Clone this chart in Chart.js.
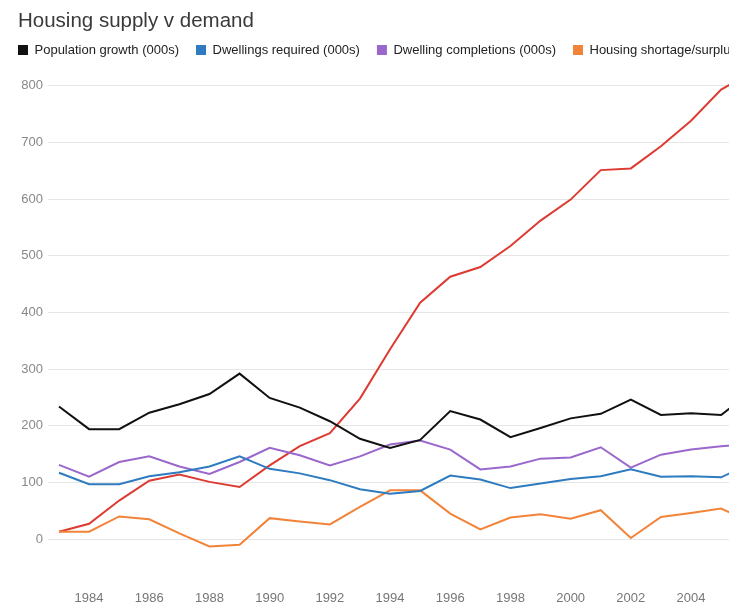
<!DOCTYPE html>
<html>
<head>
<meta charset="utf-8">
<script src="https://cdn.jsdelivr.net/npm/chart.js@4"></script>
<style>
  html, body { margin: 0; padding: 0; background: #fff; }
  body { width: 729px; height: 605px; overflow: hidden; position: relative; }
  #title {
    position: absolute; left: 18px; top: 8px; line-height: 24px;
    font-family: "Liberation Sans", Arial, sans-serif; font-size: 20.5px; color: #3a3a3a;
    z-index: 2;
  }
  #chart { position: absolute; left: 0; top: 0; }
</style>
</head>
<body>
<div id="title">Housing supply v demand</div>
<canvas id="chart" width="1150" height="605" style="width:1150px;height:605px"></canvas>
<script>
// Data (thousands), one point per year
const years = [1983, 1984, 1985, 1986, 1987, 1988, 1989, 1990, 1991, 1992, 1993, 1994,
               1995, 1996, 1997, 1998, 1999, 2000, 2001, 2002, 2003, 2004, 2005, 2006];
const populationGrowth = [234, 194, 194, 223, 238, 256, 292, 249, 232, 208, 177, 161,
                          175, 226, 211, 180, 196, 213, 221, 246, 219, 222, 219, 260];
const dwellingsRequired = [117, 97, 97, 111, 118, 128, 146, 124, 116, 104, 88, 80,
                           85, 112, 105, 90, 98, 106, 111, 123, 110, 111, 109, 134];
const dwellingCompletions = [131, 110, 136, 146, 128, 115, 136, 161, 148, 130, 146, 167,
                             174, 158, 123, 128, 142, 144, 162, 126, 149, 158, 164, 168];
const housingShortage = [13, 13, 40, 35, 10, -13, -10, 37, 31, 26, 57, 86,
                         86, 45, 17, 38, 44, 36, 51, 2, 39, 46, 54, 30];
const cumulativeShortage = [13, 27, 68, 103, 114, 101, 92, 130, 164, 187, 248, 335,
                            417, 463, 480, 517, 562, 599, 651, 654, 693, 738, 793, 823];

const yearTicks = [1984, 1986, 1988, 1990, 1992, 1994, 1996, 1998, 2000, 2002, 2004];
const valueTicks = [0, 100, 200, 300, 400, 500, 600, 700, 800];

const series = [
    { label: 'Population growth (000s)', values: populationGrowth, color: '#111111' },
    { label: 'Dwellings required (000s)', values: dwellingsRequired, color: '#2e7bbf' },
    { label: 'Dwelling completions (000s)', values: dwellingCompletions, color: '#9a68cc' },
    { label: 'Housing shortage/surplus (000s)', values: housingShortage, color: '#f2843a' },
    { label: 'Cumulative shortage/surplus (000s)', values: cumulativeShortage, color: '#dd3b32' },
];

const datasets = series.map(s => {
    return {
        label: s.label,
        data: s.values.map((v, i) => ({ x: years[i], y: v })),
        borderColor: s.color,
        backgroundColor: s.color,
        borderWidth: 2,
        pointRadius: 0,
        fill: false,
        tension: 0,
    };
});

const font = "'Liberation Sans', Arial, sans-serif";

const ctx = document.getElementById('chart').getContext('2d');
const lineChart = new Chart(ctx, {
    type: 'line',
    data: { datasets: datasets },
    options: {
        responsive: false,
        animation: false,
        layout: { padding: { top: 26.5, left: 1, right: 0, bottom: 0 } },
        scales: {
            x: {
                type: 'linear',
                min: 1982.635,
                max: 2019.25,
                afterBuildTicks: scale => { scale.ticks = yearTicks.map(v => ({ value: v })); },
                afterFit: scale => { scale.height = 27; },
                grid: { display: false, drawTicks: false },
                border: { display: false },
                ticks: {
                    padding: 13,
                    color: '#777',
                    font: { family: font, size: 13 },
                    callback: v => String(v),
                },
            },
            y: {
                min: -68.6,
                max: 833.8,
                afterBuildTicks: scale => { scale.ticks = valueTicks.map(v => ({ value: v })); },
                afterFit: scale => { scale.width = 47; },
                grid: { color: '#e6e6e6', lineWidth: 1, drawTicks: false },
                border: { display: false },
                ticks: {
                    padding: 5,
                    color: '#888',
                    font: { family: font, size: 13 },
                    callback: v => String(v),
                },
            },
        },
        plugins: {
            title: { display: false },
            tooltip: { enabled: false },
            legend: {
                display: true,
                position: 'top',
                align: 'start',
                labels: {
                    boxWidth: 10,
                    boxHeight: 10,
                    padding: 17,
                    color: '#222',
                    font: { family: font, size: 13 },
                    generateLabels: chart => Chart.defaults.plugins.legend.labels.generateLabels(chart)
                        .map(l => Object.assign(l, { lineWidth: 0 })),
                },
            },
        },
    },
});
</script>
</body>
</html>
